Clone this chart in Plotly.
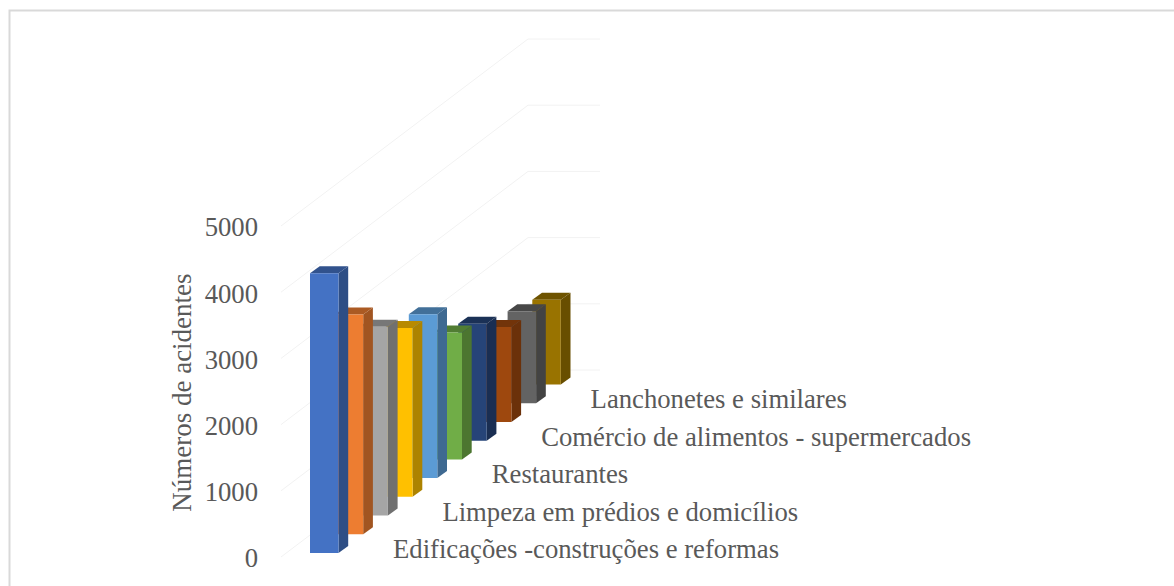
import plotly.graph_objects as go

# Accidents per activity, front to back
activities = [
    "Edificações -construções e reformas", "",
    "Limpeza em prédios e domicílios", "",
    "Restaurantes", "",
    "Comércio de alimentos - supermercados", "",
    "Lanchonetes e similares", "",
]
accidents = [4225, 3320, 2850, 2550, 2475, 1915, 1765, 1435, 1390, 1280]
front_colors = ["#4472C4", "#ED7D31", "#A5A5A5", "#FFC000", "#5B9BD5",
                "#70AD47", "#264478", "#9E480E", "#636363", "#997300"]
value_ticks = [0, 1000, 2000, 3000, 4000, 5000]

# Oblique projection: one unit of x is one pixel, the depth axis recedes up and right
PX_PER_ACCIDENT = 0.0662
STEP_X, STEP_Y = 24.7, 18.7 / PX_PER_ACCIDENT
BAR_X0, BAR_Y0, BAR_W = 310.0, 62.0, 28.5
SIDE_X, SIDE_Y = 9.7, 7.0 / PX_PER_ACCIDENT
WALL_X0, WALL_DEPTH, WALL_END = 281.0, 10, 600.0
LABEL_X0, LABEL_Y0 = 393.0, 85.0
TICK_LABEL_DROP = 55.0
FONT_SIZE = 26.7

ZERO_PX = 557.0
y_min = -(586 - ZERO_PX) / PX_PER_ACCIDENT
y_max = ZERO_PX / PX_PER_ACCIDENT


def shade(color, factor):
    r, g, b = (int(color[k:k + 2], 16) for k in (1, 3, 5))
    return f"rgb({r * factor:.0f},{g * factor:.0f},{b * factor:.0f})"


def face(xs, ys, color):
    return go.Scatter(x=xs + xs[:1], y=ys + ys[:1], mode="lines", fill="toself",
                      fillcolor=color, line=dict(width=0), hoverinfo="skip",
                      showlegend=False)


fig = go.Figure()

# Wall gridlines: along the left wall, then across the back wall
for tick in value_ticks:
    back_x = WALL_X0 + WALL_DEPTH * STEP_X
    back_y = tick + WALL_DEPTH * STEP_Y
    fig.add_trace(go.Scatter(x=[WALL_X0, back_x, WALL_END], y=[tick, back_y, back_y],
                             mode="lines", line=dict(color="#F2F2F2", width=1),
                             hoverinfo="skip", showlegend=False))

# Columns are painted back to front so nearer ones overlap farther ones
for i in reversed(range(len(accidents))):
    left = BAR_X0 + i * STEP_X
    right = left + BAR_W
    base = BAR_Y0 + i * STEP_Y
    top = base + accidents[i]
    color = front_colors[i]
    fig.add_trace(face([right, right + SIDE_X, right + SIDE_X, right],
                       [base, base + SIDE_Y, top + SIDE_Y, top], shade(color, 0.68)))
    fig.add_trace(face([left, right, right + SIDE_X, left + SIDE_X],
                       [top, top, top + SIDE_Y, top + SIDE_Y], shade(color, 0.72)))
    fig.add_trace(face([left, right, right, left], [base, base, top, top], color))

# Category labels sit in front of the floor, following the depth direction
labelled = [i for i, name in enumerate(activities) if name]
fig.add_trace(go.Scatter(
    x=[LABEL_X0 + i * STEP_X for i in labelled],
    y=[LABEL_Y0 + i * STEP_Y for i in labelled],
    text=[activities[i] for i in labelled],
    mode="text", textposition="middle right",
    textfont=dict(family="Liberation Serif", size=FONT_SIZE, color="#595959"),
    hoverinfo="skip", showlegend=False,
))

# Value axis labels, placed with the same value scale
fig.add_trace(go.Scatter(
    x=[258.0] * len(value_ticks), y=[t - TICK_LABEL_DROP for t in value_ticks],
    text=[str(t) for t in value_ticks], mode="text", textposition="middle left",
    textfont=dict(family="Liberation Serif", size=FONT_SIZE, color="#595959"),
    hoverinfo="skip", showlegend=False,
))

fig.update_layout(
    width=1174, height=586,
    margin=dict(l=0, r=0, t=0, b=0),
    paper_bgcolor="white", plot_bgcolor="white",
    xaxis=dict(range=[0, 1174], visible=False, fixedrange=True),
    yaxis=dict(range=[y_min, y_max], visible=False, fixedrange=True),
    font=dict(family="Liberation Serif", color="#595959"),
)

fig.add_annotation(text="Números de acidentes", x=182, y=2480, xref="x", yref="y",
                   textangle=-90, showarrow=False,
                   font=dict(family="Liberation Serif", size=27, color="#595959"))

# Chart frame: top and left edges lie on the page, the others run past it
fig.add_shape(type="rect", xref="paper", yref="paper",
              x0=9.5 / 1174, x1=1.05, y0=-0.05, y1=1 - 10.5 / 586,
              line=dict(color="#D9D9D9", width=2), fillcolor="rgba(0,0,0,0)")

fig.write_html("out.html")
